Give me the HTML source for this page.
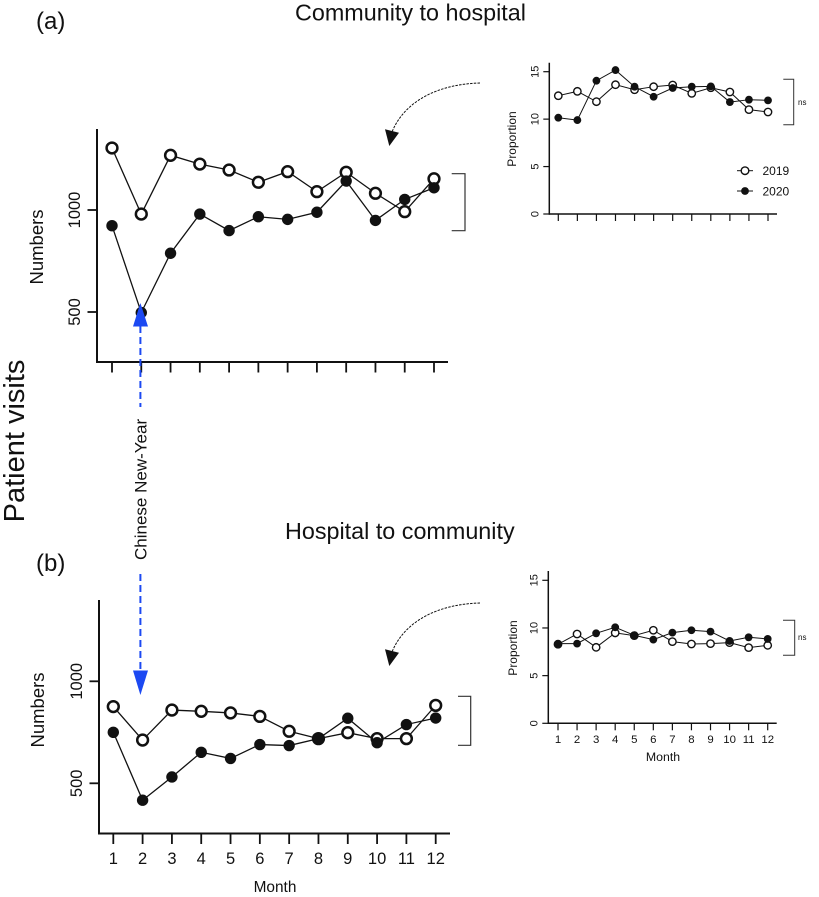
<!DOCTYPE html>
<html lang="en">
<head>
<meta charset="utf-8">
<title>Patient visits</title>
<style>
html,body{margin:0;padding:0;background:#fff;}
svg{display:block;font-family:"Liberation Sans",sans-serif;fill:#111;}
</style>
</head>
<body>
<svg id="fig" xmlns="http://www.w3.org/2000/svg" width="819" height="897" viewBox="0 0 819 897">
  <rect x="0" y="0" width="819" height="897" fill="#fff"/>
  <text x="36" y="29" font-size="24">(a)</text>
  <text x="36" y="571" font-size="24">(b)</text>
  <text x="295" y="20.5" font-size="23.35">Community to hospital</text>
  <text x="285" y="539" font-size="23.35">Hospital to community</text>
  <text transform="translate(24,441) rotate(-90)" text-anchor="middle" font-size="29">Patient visits</text>
  <text transform="translate(43,247) rotate(-90)" text-anchor="middle" font-size="18.5">Numbers</text>
  <text transform="translate(44,710) rotate(-90)" text-anchor="middle" font-size="18.5">Numbers</text>
  <text x="275" y="892" text-anchor="middle" font-size="15.4">Month</text>
  <text transform="translate(516,139) rotate(-90)" text-anchor="middle" font-size="12">Proportion</text>
  <text transform="translate(517,648) rotate(-90)" text-anchor="middle" font-size="12">Proportion</text>
  <text x="663" y="761" text-anchor="middle" font-size="12.3">Month</text>

  <g fill="none" stroke="#333" stroke-width="1.2">
    <path d="M451.7 173.7H465V230.7H451.7"/>
  </g>
  <g fill="none" stroke="#333" stroke-width="1.2">
    <path d="M458 696.3H470.7V745.3H458"/>
  </g>
  <g fill="none" stroke="#333" stroke-width="1">
    <path d="M783.3 79.3H793.7V124.7H783.3"/>
  </g>
  <g fill="none" stroke="#333" stroke-width="1">
    <path d="M783 620.3H794.7V655.3H783"/>
  </g>
  <text x="798" y="105" font-size="8">ns</text>
  <text x="798" y="640" font-size="8">ns</text>

  <path d="M480 83C440 84 405 100 392 132" fill="none" stroke="#111" stroke-width="1" stroke-dasharray="2.5 1.2"/>
  <polygon points="385,129.3 399,132.7 389.3,146" fill="#111"/>
  <path d="M480 603C440 604 405 620 392 652" fill="none" stroke="#111" stroke-width="1" stroke-dasharray="2.5 1.2"/>
  <polygon points="385,649.3 399,652.7 389.3,666" fill="#111"/>

  <g id="plots"></g>

  <g>
    <line x1="140.4" y1="326" x2="140.4" y2="407" stroke="#1c49f2" stroke-width="2" stroke-dasharray="7 4"/>
    <polygon points="140.4,303 133,326.5 148,326.5" fill="#1c49f2"/>
    <text transform="translate(146.5,560) rotate(-90)" font-size="17">Chinese New-Year</text>
    <line x1="140.4" y1="574" x2="140.4" y2="671" stroke="#1c49f2" stroke-width="2" stroke-dasharray="7 4"/>
    <polygon points="140.4,695 133,670.5 148,670.5" fill="#1c49f2"/>
  </g>

  <g>
    <g>
      <line x1="737" y1="170.7" x2="753" y2="170.7" stroke="#111" stroke-width="1"/>
      <circle cx="745" cy="170.7" r="3.8" fill="#fff" stroke="#111" stroke-width="1.4"/>
      <text x="762.5" y="175" font-size="12">2019</text>
    </g>
    <g>
      <line x1="737" y1="191" x2="753" y2="191" stroke="#111" stroke-width="1"/>
      <circle cx="745" cy="191" r="3.9" fill="#111"/>
      <text x="762.5" y="195.3" font-size="12">2020</text>
    </g>
  </g>
</svg>
<script>
var months = [1, 2, 3, 4, 5, 6, 7, 8, 9, 10, 11, 12];
var mainYTicks = [500, 1000];
var insetYTicks = [0, 5, 10, 15];

var numbersA2019 = [1304, 980, 1268, 1225, 1196, 1136, 1188, 1090, 1185, 1082, 992, 1153];
var numbersA2020 = [923, 497, 788, 980, 899, 967, 954, 989, 1142, 949, 1052, 1109];
var numbersB2019 = [876, 712, 859, 853, 845, 828, 755, 719, 748, 719, 719, 882];
var numbersB2020 = [750, 417, 531, 652, 622, 690, 685, 719, 819, 699, 788, 820];
var proportionA2019 = [12.47, 12.93, 11.84, 13.63, 13.1, 13.42, 13.6, 12.72, 13.31, 12.86, 11.0, 10.75];
var proportionA2020 = [10.15, 9.9, 14.05, 15.17, 13.42, 12.36, 13.28, 13.42, 13.45, 11.8, 12.05, 11.98];
var proportionB2019 = [8.29, 9.37, 7.97, 9.48, 9.2, 9.76, 8.57, 8.32, 8.36, 8.46, 7.94, 8.18];
var proportionB2020 = [8.36, 8.36, 9.44, 10.07, 9.23, 8.78, 9.51, 9.76, 9.62, 8.64, 9.02, 8.85];

var NS = 'http://www.w3.org/2000/svg';
var root = document.getElementById('plots');

function make(parent, tag, name, attrs) {
  var el = document.createElementNS(NS, tag);
  
  
  for (var k in attrs) { el.setAttribute(k, attrs[k]); }
  parent.appendChild(el);
  return el;
}

function drawPanel(p) {
  var g = make(root, 'g', p.name, {});
  function xScale(m) {
    return p.x1 + (m - months[0]) * (p.x12 - p.x1) / (months[months.length - 1] - months[0]);
  }
  function yScale(v) {
    return p.yA + (v - p.vA) * (p.yB - p.yA) / (p.vB - p.vA);
  }
  make(g, 'line', p.name + '-y-axis', {x1: p.axisX, y1: p.top, x2: p.axisX, y2: p.bottom + p.axisW / 2, stroke: '#111', 'stroke-width': p.axisW});
  make(g, 'line', p.name + '-x-axis', {x1: p.axisX, y1: p.bottom, x2: p.right, y2: p.bottom, stroke: '#111', 'stroke-width': p.axisW});
  p.yTicks.forEach(function (t) {
    var y = yScale(t);
    make(g, 'line', p.name + '-y-tick-' + t, {x1: p.axisX - p.tickLen, y1: y, x2: p.axisX, y2: y, stroke: '#111', 'stroke-width': p.tickW});
    var lx = p.axisX - p.yLabelOff;
    var label = make(g, 'text', p.name + '-y-tick-label-' + t, {transform: 'translate(' + lx + ',' + y + ') rotate(-90)', 'text-anchor': 'middle', 'font-size': p.yFont});
    label.textContent = t;
  });
  months.forEach(function (m) {
    var x = xScale(m);
    make(g, 'line', p.name + '-x-tick-' + m, {x1: x, y1: p.bottom, x2: x, y2: p.bottom + p.tickLen + 1, stroke: '#111', 'stroke-width': p.tickW});
    if (p.xLabels) {
      var label = make(g, 'text', p.name + '-x-tick-label-' + m, {x: x, y: p.xLabelY, 'text-anchor': 'middle', 'font-size': p.xFont});
      label.textContent = m;
    }
  });
  function series(values, label, open) {
    var s = make(g, 'g', p.name + '-series-' + label, {});
    var pts = values.map(function (v, i) { return xScale(months[i]).toFixed(2) + ',' + yScale(v).toFixed(2); }).join(' ');
    make(s, 'polyline', p.name + '-line-' + label, {points: pts, fill: 'none', stroke: '#111', 'stroke-width': p.lineW});
    values.forEach(function (v, i) {
      var attrs = {cx: xScale(months[i]), cy: yScale(v)};
      if (open) {
        attrs.r = p.openR;
        attrs.fill = '#fff';
        attrs.stroke = '#111';
        attrs['stroke-width'] = p.openW;
      } else {
        attrs.r = p.fillR;
        attrs.fill = '#111';
      }
      make(s, 'circle', p.name + '-point-' + label + '-month-' + months[i], attrs);
    });
  }
  series(p.s2019, '2019', true);
  series(p.s2020, '2020', false);
}

var mainStyle = {axisW: 2, tickW: 1.8, tickLen: 9.5, lineW: 1.3, openR: 5.4, openW: 2.5, fillR: 5.7, yFont: 16.5, yLabelOff: 17, xFont: 16.5, vA: 500, vB: 1000, yTicks: mainYTicks};
var insetStyle = {axisW: 1.5, tickW: 1.2, tickLen: 6, lineW: 1, openR: 3.7, openW: 1.4, fillR: 3.9, yFont: 11, yLabelOff: 11, xFont: 11.4, vA: 0, vB: 15, yTicks: insetYTicks};

function panel(style, own) {
  var out = {};
  for (var a in style) { out[a] = style[a]; }
  for (var b in own) { out[b] = own[b]; }
  return out;
}

drawPanel(panel(mainStyle, {name: 'panel-a', axisX: 97, top: 129, bottom: 362, right: 448, x1: 112, x12: 434, yA: 312, yB: 210, s2019: numbersA2019, s2020: numbersA2020, xLabels: false}));
drawPanel(panel(mainStyle, {name: 'panel-b', axisX: 99, top: 600, bottom: 833.5, right: 450, x1: 113.3, x12: 435.7, yA: 783.3, yB: 681.3, s2019: numbersB2019, s2020: numbersB2020, xLabels: true, xLabelY: 864}));
drawPanel(panel(insetStyle, {name: 'inset-a', axisX: 549.3, top: 62.7, bottom: 214, right: 777, x1: 558.3, x12: 768, yA: 214, yB: 71.7, s2019: proportionA2019, s2020: proportionA2020, xLabels: false}));
drawPanel(panel(insetStyle, {name: 'inset-b', axisX: 548.3, top: 571, bottom: 723.3, right: 776.7, x1: 558, x12: 767.7, yA: 723.3, yB: 580.3, s2019: proportionB2019, s2020: proportionB2020, xLabels: true, xLabelY: 743}));
</script>
</body>
</html>
